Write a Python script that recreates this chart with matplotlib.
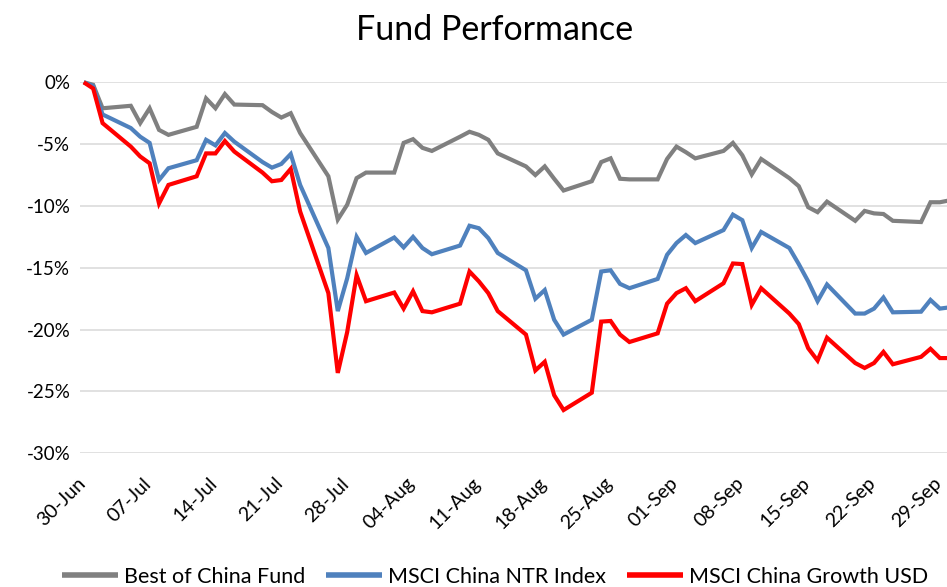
import matplotlib
matplotlib.use("Agg")
import matplotlib.pyplot as plt
import matplotlib.dates as mdates
import matplotlib.transforms as mtransforms
import pandas as pd

plt.rcParams['font.family'] = ['Lato', 'DejaVu Sans']

# Trading dates (weekdays), 2021
dates = [
    "06-30", "07-01", "07-02",
    "07-05", "07-06", "07-07", "07-08", "07-09",
    "07-12", "07-13", "07-14", "07-15", "07-16",
    "07-19", "07-20", "07-21", "07-22", "07-23",
    "07-26", "07-27", "07-28", "07-29", "07-30",
    "08-02", "08-03", "08-04", "08-05", "08-06",
    "08-09", "08-10", "08-11", "08-12", "08-13",
    "08-16", "08-17", "08-18", "08-19", "08-20",
    "08-23", "08-24", "08-25", "08-26", "08-27",
    "08-30", "08-31", "09-01", "09-02", "09-03",
    "09-06", "09-07", "09-08", "09-09", "09-10",
    "09-13", "09-14", "09-15", "09-16", "09-17",
    "09-20", "09-21", "09-22", "09-23", "09-24",
    "09-27", "09-28", "09-29", "09-30",
]

best_of_china = [
    0.0, -0.2, -2.1,
    -1.9, -3.3, -2.1, -3.85, -4.25,
    -3.6, -1.3, -2.1, -0.95, -1.8,
    -1.85, -2.4, -2.85, -2.5, -4.1,
    -7.6, -11.1, -9.9, -7.75, -7.3,
    -7.3, -4.9, -4.6, -5.3, -5.55,
    -4.4, -4.0, -4.25, -4.65, -5.75,
    -6.8, -7.5, -6.8, -7.8, -8.75,
    -8.0, -6.45, -6.15, -7.8, -7.85,
    -7.85, -6.2, -5.2, -5.65, -6.15,
    -5.55, -4.9, -5.9, -7.45, -6.2,
    -7.75, -8.4, -10.1, -10.5, -9.65,
    -11.2, -10.4, -10.6, -10.65, -11.2,
    -11.3, -9.7, -9.7, -9.55,
]

msci_china_ntr = [
    0.0, -0.3, -2.6,
    -3.7, -4.4, -4.9, -7.9, -6.95,
    -6.3, -4.65, -5.1, -4.1, -4.8,
    -6.45, -6.9, -6.6, -5.8, -8.3,
    -13.4, -18.5, -15.85, -12.5, -13.8,
    -12.55, -13.35, -12.5, -13.4, -13.9,
    -13.2, -11.6, -11.8, -12.6, -13.8,
    -15.2, -17.5, -16.8, -19.2, -20.4,
    -19.2, -15.3, -15.2, -16.3, -16.65,
    -15.9, -13.95, -13.0, -12.35, -13.0,
    -11.95, -10.7, -11.15, -13.4, -12.1,
    -13.4, -14.7, -16.1, -17.7, -16.35,
    -18.7, -18.7, -18.3, -17.4, -18.6,
    -18.55, -17.6, -18.3, -18.2,
]

msci_china_growth = [
    0.0, -0.5, -3.3,
    -5.2, -6.0, -6.55, -9.8, -8.3,
    -7.6, -5.75, -5.75, -4.75, -5.6,
    -7.3, -8.0, -7.9, -7.0, -10.45,
    -17.05, -23.5, -20.2, -15.6, -17.7,
    -17.0, -18.3, -16.9, -18.5, -18.6,
    -17.9, -15.3, -16.1, -17.05, -18.5,
    -20.4, -23.3, -22.6, -25.3, -26.5,
    -25.1, -19.35, -19.3, -20.4, -21.0,
    -20.3, -17.9, -17.05, -16.65, -17.7,
    -16.25, -14.65, -14.7, -18.0, -16.65,
    -18.7, -19.55, -21.5, -22.5, -20.65,
    -22.7, -23.1, -22.7, -21.8, -22.8,
    -22.2, -21.55, -22.3, -22.3,
]

series_names = ["Best of China Fund", "MSCI China NTR Index", "MSCI China Growth USD"]
series_colors = ["#808080", "#4f81bd", "#ff0000"]

x = pd.to_datetime(["2021-" + d for d in dates])
start = pd.Timestamp("2021-06-30")
tick_dates = [start + pd.Timedelta(days=7 * k) for k in range(14)]

W, H = 947, 587
fig = plt.figure(figsize=(W / 100, H / 100), dpi=100)
left_px, right_px = 80, 954
top_px, bottom_px = 82.3, 453.3
ax = fig.add_axes([left_px / W, 1 - bottom_px / H,
                   (right_px - left_px) / W, (bottom_px - top_px) / H])

for vals, name, col in zip([best_of_china, msci_china_ntr, msci_china_growth],
                           series_names, series_colors):
    ax.plot(x, vals, color=col, lw=3.0, label=name, clip_on=False,
            solid_joinstyle='miter', solid_capstyle='butt')

ax.set_ylim(-30, 0)
ax.set_yticks(range(-30, 1, 5))
ax.set_yticklabels([f"{v}%" for v in range(-30, 1, 5)])
ax.set_xlim(start - pd.Timedelta(hours=0.4 * 24), start + pd.Timedelta(hours=92.5 * 24))
ax.set_xticks(tick_dates)
ax.xaxis.set_major_formatter(mdates.DateFormatter("%d-%b"))

ax.grid(axis='y', color='#d9d9d9', lw=1.1)
ax.set_axisbelow(True)
for s in ax.spines.values():
    s.set_visible(False)
ax.tick_params(axis='both', length=0, colors='black')
ax.tick_params(axis='y', pad=7, labelsize=13.5)
ax.tick_params(axis='x', pad=6, labelsize=14)
offset = mtransforms.ScaledTranslation(-7 / 100, -13 / 100, fig.dpi_scale_trans)
for lab in ax.get_xticklabels():
    lab.set_rotation(45)
    lab.set_ha('right')
    lab.set_rotation_mode('anchor')
    lab.set_transform(lab.get_transform() + offset)

fig.text(495 / W, 1 - 30 / H, "Fund Performance", ha='center', va='center', fontsize=24.5)

leg = fig.legend(loc='center', bbox_to_anchor=(495 / W, 1 - 577 / H), ncol=3,
                 frameon=False, fontsize=15.5, handlelength=2.6, handletextpad=0.25,
                 columnspacing=1.0, borderaxespad=0)
for h in leg.get_lines():
    h.set_linewidth(4)

fig.savefig("out.png", dpi=100)
